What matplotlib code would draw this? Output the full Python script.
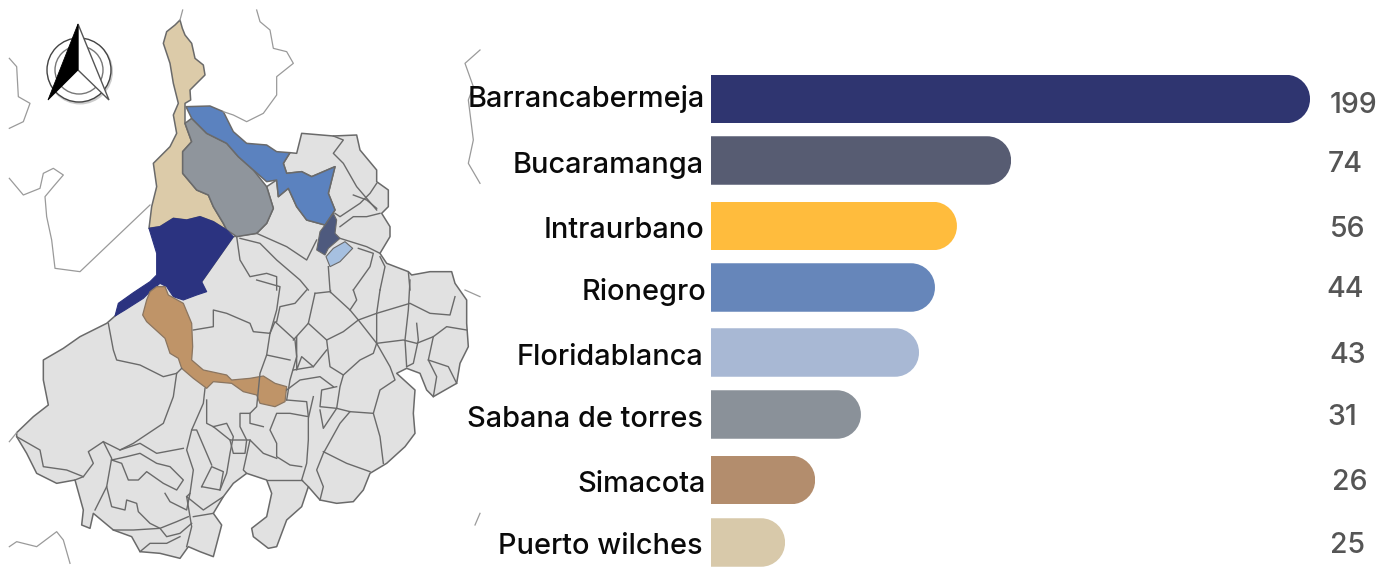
# -*- coding: utf-8 -*-
# Casos por municipio: mapa de Santander a la izquierda, barras a la derecha
import matplotlib
matplotlib.use('Agg')
import matplotlib.pyplot as plt
from matplotlib.patches import Polygon, PathPatch, Circle
from matplotlib.path import Path

W, H = 1381, 567
FONT = ['Inter', 'DejaVu Sans']

# Chart data
municipios = ['Barrancabermeja', 'Bucaramanga', 'Intraurbano', 'Rionegro',
              'Floridablanca', 'Sabana de torres', 'Simacota', 'Puerto wilches']
casos = [199, 74, 56, 44, 43, 31, 26, 25]
# the bars in the original are not to scale with their labels, so lengths are read apart
largo_barra = [199, 99.7, 81.7, 74.4, 69.1, 49.8, 34.6, 24.6]
colores = ['#2f3570', '#575c72', '#ffbc3d', '#6686ba', '#a8b8d4', '#8a9199', '#b38d6d', '#d8c9aa']

# Layout, in pixels (y is the text baseline)
centro_barra = [99, 160.5, 226, 287.5, 352.5, 414.5, 480, 542.5]
alto_barra = 48.5
label_x = [705, 704, 704, 706, 703, 703, 706, 703]
label_y = [107, 173, 238, 300, 365, 427, 492, 554]
valor_x = [1353.5, 1345, 1347.5, 1345, 1348, 1342, 1349.5, 1347]
valor_y = [113, 172, 237, 297, 363, 425, 490, 553]

# Map outlines. sup_* traced on the upper crop, inf_* on the lower one (3x zoom)
sup_wilches = [(540,60),(547,85),(555,105),(575,130),(585,175),(610,195),(615,225),(585,255),(570,270),
               (572,300),(555,310),(555,370),(575,425),(548,455),(548,520),(590,570),(625,585),(640,620),
               (670,670),(680,690),(640,665),(600,650),(560,660),(520,655),(480,680),(447,685),(455,620),
               (470,560),(460,490),(510,440),(530,400),(520,345),(535,310),(520,250),(510,190),(490,130),
               (500,95),(525,75)]
sup_sabana = [(555,370),(575,355),(620,400),(680,430),(715,470),(760,510),(800,560),(820,625),(800,670),
              (770,700),(710,710),(680,690),(670,670),(640,620),(625,585),(590,570),(548,520),(548,455),
              (575,425)]
sup_rionegro = [(558,320),(630,318),(670,335),(700,395),(740,430),(800,435),(830,455),(870,458),(850,490),
                (860,520),(905,515),(935,530),(1005,500),(985,580),(1005,630),(975,675),(920,660),(890,620),
                (865,565),(835,590),(830,540),(800,545),(760,510),(715,470),(680,430),(620,400),(575,355)]
sup_barranca = [(447,685),(480,680),(520,655),(560,660),(600,650),(640,665),(680,690),(700,710),(605,845),
                (620,875),(590,885),(550,900),(520,890),(500,860),(480,850),(450,875),(430,895),(375,930),
                (345,948),(355,910),(400,878),(450,845),(470,825),(470,760)]
sup_bucaramanga = [(1000,640),(1010,660),(1005,700),(1020,715),(985,745),(975,765),(950,750),(960,695),(975,675)]
sup_florida = [(1035,725),(1058,745),(1020,785),(990,800),(978,770),(1000,745)]
inf_simacota = [(470,20),(495,20),(505,45),(550,70),(575,130),(578,200),(575,240),(610,270),(680,285),(695,300),
                (750,295),(790,288),(825,310),(860,320),(855,365),(825,380),(780,370),(770,345),(730,335),
                (695,310),(640,305),(620,325),(580,295),(545,265),(535,235),(510,220),(495,175),(440,125),
                (428,105),(440,60),(450,35)]
sup_base = [(605,845),(700,710),(770,700),(800,670),(820,625),(800,560),(830,540),(835,590),(865,565),(890,620),
            (920,660),(975,675),(1005,630),(985,580),(1005,500),(935,530),(905,515),(860,520),(850,490),(870,458),
            (890,460),(905,400),(1000,408),(1070,405),(1080,450),(1130,510),(1130,545),(1165,570),(1165,620),
            (1145,640),(1170,680),(1170,710),(1140,760),(1160,790),(1225,815),(1235,825),(1290,815),(1355,815),
            (1365,850)]
inf_base = [(1365,10),(1400,60),(1400,130),(1405,200),(1380,250),(1370,310),(1300,350),(1280,330),(1260,280),
            (1220,265),(1190,280),(1245,330),(1240,400),(1245,460),(1215,500),(1160,550),(1110,580),(1090,630),
            (1060,665),(1010,670),(960,660),(925,620),(905,680),(860,720),(830,800),(805,805),(760,770),(755,745),
            (800,710),(815,640),(800,600),(740,580),(700,610),(670,650),(640,700),(665,735),(640,830),(600,815),
            (565,800),(540,835),(480,820),(420,815),(395,770),(340,750),(280,700),(270,745),(245,735),(250,690),
            (225,600),(170,610),(110,580),(80,520),(50,470),(50,458),(100,410),(145,375),(130,300),(130,240),
            (190,205),(240,170),(320,130),(345,108),(480,0),(605,5)]
inf_lineas = [
    [(325,130),(340,210),(350,240),(420,255),(490,290),(530,280),(545,265)],
    [(530,280),(520,350),(490,430),(400,490),(360,510),(310,485),(265,515),(280,550),(250,590),(225,600)],
    [(50,470),(120,510),(130,560),(200,570),(250,590)],
    [(615,325),(610,370),(575,450),(560,510),(580,570),(570,640),(560,650),(570,710),(575,740),(560,800)],
    [(310,485),(335,535),(320,620),(285,690)],
    [(360,510),(420,490),(470,520),(550,505)],
    [(335,540),(380,530),(420,520),(470,550),(510,560),(550,600),(530,630),(490,610),(440,575),(415,600),(385,600),(365,550),(335,540)],
    [(320,620),(335,680),(375,690),(380,660),(410,670),(415,695),(450,730),(480,745),(530,725),(565,710)],
    [(340,750),(400,750),(480,745),(500,770),(540,760),(575,730)],
    [(420,815),(450,790),(500,790),(540,770)],
    [(495,640),(510,665),(560,690),(570,640)],
    [(560,650),(610,690),(670,650)],
    [(580,710),(640,700)],
    [(605,620),(635,560),(670,575),(660,630),(605,620)],
    [(635,555),(590,450),(575,450)],
    [(640,440),(680,430),(700,470),(690,520),(680,580),(660,630)],
    [(640,440),(690,480),(750,480)],
    [(690,480),(700,520),(735,520),(740,480),(720,440),(720,400),(750,400),(750,430),(790,440)],
    [(620,360),(620,430),(640,440)],
    [(580,150),(640,140),(640,90),(680,100),(750,130),(760,155),(810,160),(830,90),(840,20),(770,0)],
    [(810,160),(800,225),(780,280),(770,380),(750,400)],
    [(810,160),(825,125),(885,180),(890,230),(870,300),(860,360)],
    [(800,225),(870,240)],
    [(830,125),(840,80),(885,70),(920,30)],
    [(945,40),(925,130),(880,180)],
    [(945,40),(990,35),(1050,90),(1075,120),(1030,155),(980,180),(925,130)],
    [(1075,120),(1130,100),(1230,70),(1290,100),(1350,105),(1365,50)],
    [(1230,0),(1225,90),(1215,180),(1220,260)],
    [(1075,120),(1130,190),(1170,260),(1185,300),(1140,330),(1120,400),(1140,470),(1150,550)],
    [(980,180),(990,260),(1030,285),(1080,240),(1120,220),(1130,190)],
    [(1130,190),(1210,180),(1250,190),(1300,170),(1340,140),(1400,150)],
    [(1250,130),(1255,180),(1240,250),(1220,260)],
    [(1300,170),(1285,240),(1310,290),(1300,350)],
    [(1285,240),(1345,260),(1370,310)],
    [(1030,285),(1020,320),(1010,385),(960,380),(965,330),(1010,320)],
    [(1010,385),(970,445),(960,390)],
    [(1010,385),(1050,395),(1120,400)],
    [(1050,395),(1020,430),(970,520),(950,570),(970,620),(960,660)],
    [(970,515),(1040,550),(1110,575)],
    [(940,350),(925,415),(925,480),(920,550),(905,600),(925,620)],
    [(860,360),(920,365),(925,410),(870,400),(830,400),(810,450),(830,490),(830,530),(870,555),(905,560)],
    [(830,535),(790,520),(750,480),(730,570),(740,580)],
    [(905,600),(850,600),(800,600)],
    [(860,330),(900,300),(960,290),(1000,320)],
    [(880,270),(940,260),(980,210)],
    [(890,170),(890,270),(905,230),(940,260)],
    [(1140,30),(1130,100),(1130,190)],
    [(1060,30),(1070,60),(1050,90)],
    [(990,30),(990,35)],
]
sup_lineas = [
    [(710,710),(720,780),(750,830),(800,820),(830,830),(830,870)],
    [(770,700),(860,740),(920,780),(950,720)],
    [(720,715),(780,730),(830,780),(900,840),(925,870)],
    [(985,800),(990,870)],
    [(1075,745),(1120,760),(1110,800),(1060,870)],
    [(1140,770),(1155,800),(1140,870)],
    [(1225,815),(1230,870)],
    [(1000,408),(1030,420),(1000,460),(1030,490),(1070,560),(1130,630)],
    [(1005,640),(1020,650),(1080,610),(1110,580),(1130,550)],
    [(1020,680),(1060,650),(1100,650),(1140,640)],
    [(1020,715),(1100,740),(1140,760)],
    [(1060,585),(1100,600),(1130,625)],
]
# Neighbouring departments, thin grey lines
sup_vecinos = [
    [(770,30),(780,65),(810,90),(820,145),(860,155),(880,190),(830,230),(830,285),(790,340),(740,365),(700,345),(670,335)],
    [(28,175),(50,200),(55,290),(90,310),(70,365),(28,385)],
    [(28,535),(70,585),(120,565),(130,520),(160,505),(190,525),(160,560),(135,590),(140,650),(155,720),(165,805),(240,815),(450,615)],
    [(548,30),(540,60)],
    [(1440,150),(1395,190),(1420,260),(1405,300),(1420,420),(1405,490),(1440,550)],
]
inf_vecinos = [
    [(28,800),(50,785),(110,800),(170,755),(190,780),(210,850)],
    [(1425,735),(1440,700)],
    [(1395,30),(1440,50)],
    [(28,485),(50,458)],
]


def sup(puntos):
    return [(x / 3, y / 3) for x, y in puntos]


def inf(puntos):
    return [(x / 3, 280 + y / 3) for x, y in puntos]


fig = plt.figure(figsize=(W / 100, H / 100), dpi=100, facecolor='white')

# Map
ax_map = fig.add_axes([0, 0, 482 / W, 1])
ax_map.set_xlim(0, 482)
ax_map.set_ylim(H, 0)
ax_map.axis('off')

for linea in sup_vecinos:
    ax_map.plot(*zip(*sup(linea)), color='#9a9a9a', lw=0.9, solid_joinstyle='round')
for linea in inf_vecinos:
    ax_map.plot(*zip(*inf(linea)), color='#9a9a9a', lw=0.9, solid_joinstyle='round')

BORDE = '#6a6a6a'
ax_map.add_patch(Polygon(sup(sup_base) + inf(inf_base), closed=True, fc='#e1e1e1', ec=BORDE, lw=1.1, joinstyle='round'))
for linea in inf_lineas:
    ax_map.plot(*zip(*inf(linea)), color=BORDE, lw=1.0, solid_joinstyle='round')
for linea in sup_lineas:
    ax_map.plot(*zip(*sup(linea)), color=BORDE, lw=1.0, solid_joinstyle='round')

ax_map.add_patch(Polygon(sup(sup_wilches), fc='#dccba9', ec=BORDE, lw=1.1, joinstyle='round'))
ax_map.add_patch(Polygon(sup(sup_sabana), fc='#8f959c', ec=BORDE, lw=1.1, joinstyle='round'))
ax_map.add_patch(Polygon(sup(sup_rionegro), fc='#5b82bf', ec=BORDE, lw=1.1, joinstyle='round'))
ax_map.add_patch(Polygon(sup(sup_barranca), fc='#2b3380', ec='#2b3380', lw=0.8, joinstyle='round'))
ax_map.add_patch(Polygon(inf(inf_simacota), fc='#bf9468', ec='#8a7560', lw=0.9, joinstyle='round'))
ax_map.add_patch(Polygon(sup(sup_bucaramanga), fc='#4e5a7e', ec=BORDE, lw=0.8, joinstyle='round'))
ax_map.add_patch(Polygon(sup(sup_florida), fc='#a6c0e0', ec=BORDE, lw=0.8, joinstyle='round'))

# North arrow
ax_map.add_patch(Circle((80, 71.5), 33, fc='#cccccc', ec='none'))
ax_map.add_patch(Circle((79, 70), 32, fc='white', ec='#444444', lw=1.0))
ax_map.add_patch(Circle((79, 70), 24, fc='none', ec='#777777', lw=1.0))
ax_map.add_patch(Polygon([(78, 24), (109, 100), (78, 70)], fc='white', ec='#555555', lw=1.0))
ax_map.add_patch(Polygon([(78, 24), (48, 100), (78, 70)], fc='black', ec='black', lw=0.6))

# Bars
esc = 599 / 199  # pixels per unit
ax = fig.add_axes([711 / W, 0, (W - 711) / W, 1])
ax.set_xlim(0, (W - 711) / esc)
ax.set_ylim(H, 0)
ax.axis('off')

barras = ax.barh(centro_barra, largo_barra, height=alto_barra, color=colores)
rx, ry = 24 / esc, 24
k = 0.5523
for barra in barras:
    x0, x1 = barra.get_x(), barra.get_x() + barra.get_width()
    y0, y1 = barra.get_y(), barra.get_y() + barra.get_height()
    verts = [(x0, y0), (x1 - rx, y0),
             (x1 - rx + k * rx, y0), (x1, y0 + ry - k * ry), (x1, y0 + ry),
             (x1, y1 - ry),
             (x1, y1 - ry + k * ry), (x1 - rx + k * rx, y1), (x1 - rx, y1),
             (x0, y1), (x0, y0)]
    codes = [Path.MOVETO, Path.LINETO, Path.CURVE4, Path.CURVE4, Path.CURVE4, Path.LINETO,
             Path.CURVE4, Path.CURVE4, Path.CURVE4, Path.LINETO, Path.CLOSEPOLY]
    forma = PathPatch(Path(verts, codes), transform=ax.transData)
    barra.set_clip_path(forma)

# Labels
for nombre, x, y in zip(municipios, label_x, label_y):
    fig.text(x / W, 1 - y / H, nombre, ha='right', va='baseline', fontsize=20.8,
             family=FONT, weight='medium', color='#0a0a0a', zorder=5)
for valor, x, y in zip(casos, valor_x, valor_y):
    fig.text(x / W, 1 - y / H, str(valor), ha='center', va='baseline', fontsize=20.5,
             family=FONT, weight='medium', color='#555555')

fig.savefig('out.png', dpi=100)
